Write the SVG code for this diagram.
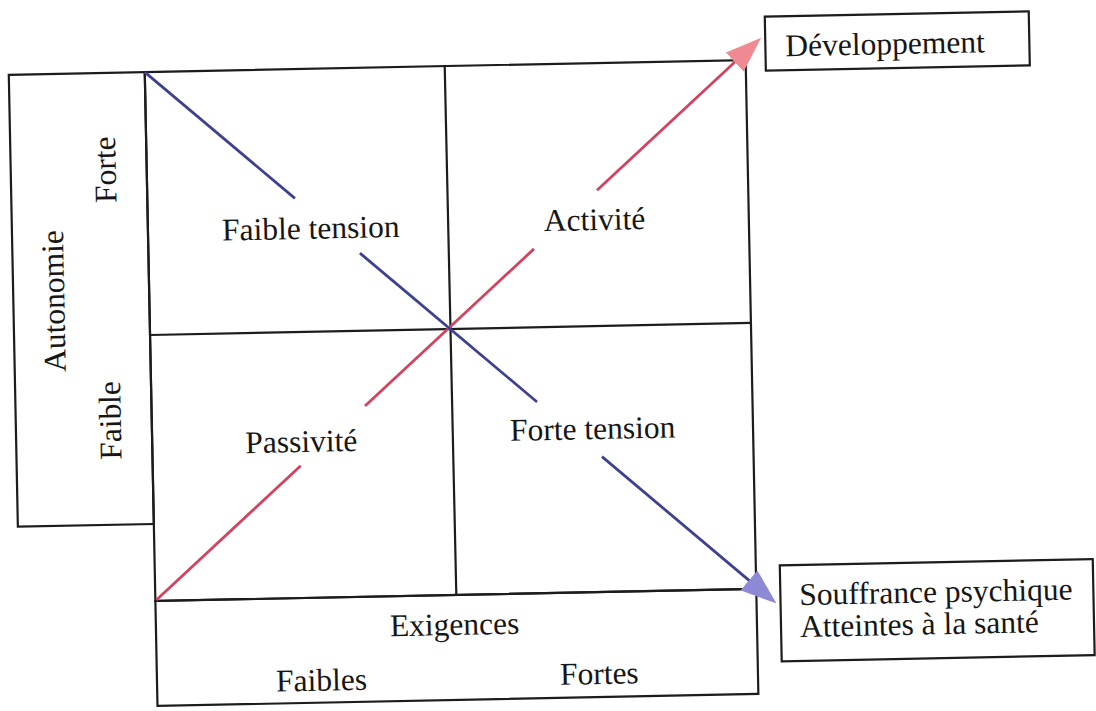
<svg xmlns="http://www.w3.org/2000/svg" width="1096" height="711" viewBox="0 0 1096 711">
  <style>
    .frame { fill: none; stroke: #1c1c1c; stroke-width: 2.2; }
    .lbl { font-family: "Liberation Serif", "Times New Roman", serif; font-size: 31.5px; fill: #161616; }
    .dev { fill: none; stroke: #d2435f; stroke-width: 2.8; }
    .strain { fill: none; stroke: #3e418f; stroke-width: 2.8; }
  </style>
  <defs>
    <marker id="head-red" markerUnits="userSpaceOnUse" viewBox="0 0 36 26" refX="2" refY="13" markerWidth="36" markerHeight="26" orient="auto">
      <path d="M0,0 L36,13 L0,26 Z" fill="#ef8a93"/>
    </marker>
    <marker id="head-blue" markerUnits="userSpaceOnUse" viewBox="0 0 36 26" refX="2" refY="13" markerWidth="36" markerHeight="26" orient="auto">
      <path d="M0,0 L36,13 L0,26 Z" fill="#8d89d5"/>
    </marker>
  </defs>
  <rect width="1096" height="711" fill="#ffffff"/>

  <!-- the whole figure sits slightly tilted on the page -->
  <g transform="rotate(-1.15 450 330)">

    <!-- vertical axis: autonomy -->
    <g id="axis-autonomie">
      <rect class="frame" x="14" y="66" width="136" height="452"/>
      <text class="lbl" transform="translate(65 364) rotate(-90)">Autonomie</text>
      <text class="lbl" transform="translate(119 196) rotate(-90)">Forte</text>
      <text class="lbl" transform="translate(119 453) rotate(-90)">Faible</text>
    </g>

    <!-- 2x2 grid of job situations -->
    <g id="grid">
      <rect class="frame" x="150" y="66" width="601" height="529"/>
      <line class="frame" x1="450" y1="66" x2="451" y2="595"/>
      <line class="frame" x1="150" y1="329" x2="751" y2="329"/>
    </g>

    <g id="q-faible-tension">
      <text class="lbl" x="224" y="236">Faible tension</text>
    </g>
    <g id="q-activite">
      <text class="lbl" x="546" y="233">Activité</text>
    </g>
    <g id="q-passivite">
      <text class="lbl" x="243" y="449">Passivité</text>
    </g>
    <g id="q-forte-tension">
      <text class="lbl" x="508" y="442">Forte tension</text>
    </g>

    <!-- horizontal axis: demands -->
    <g id="axis-exigences">
      <rect class="frame" x="150" y="595" width="601" height="105"/>
      <text class="lbl" x="384" y="635">Exigences</text>
      <text class="lbl" x="269" y="688">Faibles</text>
      <text class="lbl" x="553" y="687">Fortes</text>
    </g>

    <!-- outcomes -->
    <g id="out-developpement">
      <rect class="frame" x="771" y="23" width="264" height="54"/>
      <text class="lbl" x="791" y="63">Développement</text>
    </g>
    <g id="out-souffrance">
      <rect class="frame" x="775" y="572" width="313" height="96"/>
      <text class="lbl" x="794" y="612">Souffrance psychique</text>
      <text class="lbl" x="794" y="644">Atteintes à la santé</text>
    </g>

    <!-- diagonals, interrupted around the quadrant labels -->
    <g id="connectors">
      <line class="dev" x1="151" y1="594" x2="298" y2="462.7"/>
      <line class="dev" x1="363.5" y1="404.3" x2="535.6" y2="250.6"/>
      <line class="dev" x1="599.8" y1="193.3" x2="741.6" y2="66.6" marker-end="url(#head-red)"/>

      <line class="strain" x1="150" y1="66" x2="297.6" y2="195.3"/>
      <line class="strain" x1="361.5" y1="251.3" x2="535.6" y2="403.7"/>
      <line class="strain" x1="599.4" y1="459.7" x2="745.4" y2="587.6" marker-end="url(#head-blue)"/>
    </g>
  </g>
</svg>
